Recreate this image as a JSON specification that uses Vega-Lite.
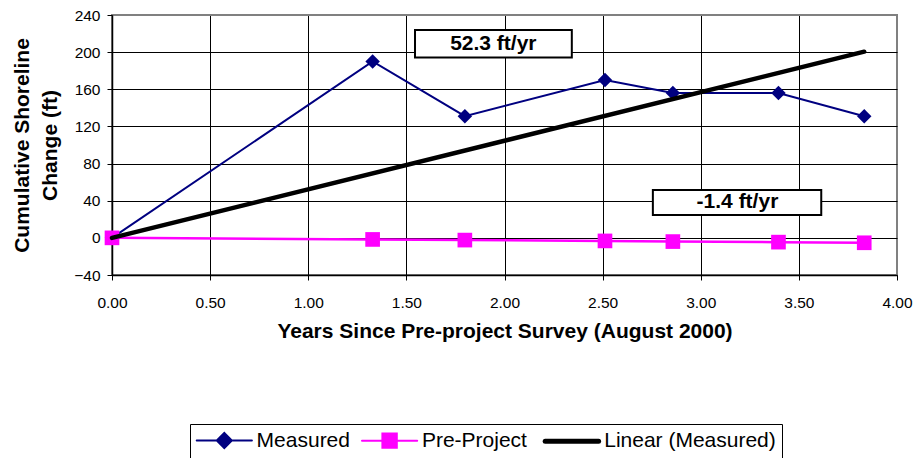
{
  "$schema": "https://vega.github.io/schema/vega-lite/v6.json",
  "width": 785,
  "height": 260,
  "autosize": {"type": "none"},
  "padding": {"left": 112, "top": 15, "right": 21, "bottom": 183},
  "background": "white",
  "config": {
    "font": "Liberation Sans",
    "view": {"stroke": "#808080", "strokeWidth": 2},
    "axis": {
      "labelFont": "Liberation Sans",
      "labelFontSize": 15.5,
      "labelColor": "black",
      "labelFlush": false,
      "labelOverlap": false,
      "titleFont": "Liberation Sans",
      "titleFontSize": 21,
      "titleFontWeight": "bold",
      "titleColor": "black",
      "tickColor": "black",
      "tickSize": 5,
      "tickWidth": 1,
      "domainColor": "black",
      "domainWidth": 1.5,
      "grid": true,
      "gridWidth": 1,
      "gridOpacity": 1
    }
  },
  "datasets": {
    "obs": [
      {"years": 0, "change": 0, "series": "Measured"},
      {"years": 1.328, "change": 190, "series": "Measured"},
      {"years": 1.798, "change": 131, "series": "Measured"},
      {"years": 2.512, "change": 170, "series": "Measured"},
      {"years": 2.858, "change": 156, "series": "Measured"},
      {"years": 3.396, "change": 156, "series": "Measured"},
      {"years": 3.833, "change": 131, "series": "Measured"},
      {"years": 0, "change": 0, "series": "Pre-Project"},
      {"years": 1.328, "change": -1.7, "series": "Pre-Project"},
      {"years": 1.798, "change": -2.4, "series": "Pre-Project"},
      {"years": 2.512, "change": -3.3, "series": "Pre-Project"},
      {"years": 2.858, "change": -4.0, "series": "Pre-Project"},
      {"years": 3.396, "change": -4.6, "series": "Pre-Project"},
      {"years": 3.833, "change": -5.3, "series": "Pre-Project"}
    ],
    "trend": [
      {"years": 0, "change": 0, "series": "Linear (Measured)"},
      {"years": 3.833, "change": 200.5, "series": "Linear (Measured)"}
    ],
    "notes": [
      {"label": "52.3 ft/yr", "xc": 1.943, "yc": 209, "xl": 1.544, "xr": 2.343, "yb": 194.1, "yt": 223.9},
      {"label": "-1.4 ft/yr", "xc": 3.187, "yc": 38.1, "xl": 2.756, "xr": 3.614, "yb": 24.7, "yt": 51.6}
    ]
  },
  "encoding": {
    "x": {
      "field": "years",
      "type": "quantitative",
      "scale": {"domain": [0, 4], "nice": false, "zero": false},
      "axis": {
        "title": "Years Since Pre-project Survey (August 2000)",
        "values": [0, 0.5, 1, 1.5, 2, 2.5, 3, 3.5, 4],
        "format": ".2f",
        "labelPadding": 15,
        "titlePadding": 10,
        "gridColor": {"condition": {"test": "datum.value === 4", "value": "#808080"}, "value": "black"}
      }
    },
    "y": {
      "field": "change",
      "type": "quantitative",
      "scale": {"domain": [-40, 240], "nice": false, "zero": false},
      "axis": {
        "title": ["Cumulative Shoreline", "Change (ft)"],
        "titleLineHeight": 28,
        "values": [-40, 0, 40, 80, 120, 160, 200, 240],
        "format": "d",
        "labelPadding": 7,
        "titlePadding": 13,
        "gridColor": {"condition": {"test": "datum.value === 240", "value": "#808080"}, "value": "black"}
      }
    }
  },
  "layer": [
    {
      "data": {"name": "obs"},
      "transform": [{"filter": "datum.series === 'Measured'"}],
      "mark": {"type": "line", "strokeWidth": 2},
      "encoding": {
        "color": {
          "field": "series",
          "type": "nominal",
          "scale": {"domain": ["Measured", "Pre-Project", "Linear (Measured)"], "range": ["#000080", "#FF00FF", "#000000"]},
          "legend": {
            "title": null,
            "orient": "none",
            "legendX": 78,
            "legendY": 409,
            "direction": "horizontal",
            "strokeColor": "black",
            "fillColor": "white",
            "padding": 6,
            "labelFont": "Liberation Sans",
            "labelFontSize": 21,
            "labelColor": "black",
            "labelLimit": 400,
            "symbolSize": 144,
            "symbolStrokeWidth": 2,
            "symbolOffset": 17.8,
            "labelOffset": 21.8,
            "columnPadding": 7.3,
            "encode": {
              "symbols": {
                "update": {
                  "shape": {"signal": "datum.value === 'Measured' ? 'M-4.6,0H4.6M0,-1.25L1.25,0L0,1.25L-1.25,0Z' : datum.value === 'Pre-Project' ? 'M-4.6,0H4.6M-1.2,-1.2H1.2V1.2H-1.2Z' : 'M-4.45,0H4.45'"},
                  "fill": {"signal": "datum.value === 'Measured' ? '#000080' : datum.value === 'Pre-Project' ? '#FF00FF' : 'transparent'"},
                  "stroke": {"signal": "datum.value === 'Measured' ? '#000080' : datum.value === 'Pre-Project' ? '#FF00FF' : '#000000'"},
                  "strokeWidth": {"signal": "datum.value === 'Linear (Measured)' ? 5 : 2"},
                  "strokeCap": {"value": "round"},
                  "opacity": {"value": 1},
                  "fillOpacity": {"value": 1}
                }
              }
            }
          }
        }
      }
    },
    {
      "data": {"name": "obs"},
      "transform": [{"filter": "datum.series === 'Measured'"}],
      "mark": {"type": "point", "shape": "diamond", "filled": true, "size": 210, "opacity": 1},
      "encoding": {"color": {"field": "series", "type": "nominal"}}
    },
    {
      "data": {"name": "obs"},
      "transform": [{"filter": "datum.series === 'Pre-Project'"}],
      "mark": {"type": "line", "strokeWidth": 2.5},
      "encoding": {"color": {"field": "series", "type": "nominal"}}
    },
    {
      "data": {"name": "obs"},
      "transform": [{"filter": "datum.series === 'Pre-Project'"}],
      "mark": {"type": "point", "shape": "square", "filled": true, "size": 215, "opacity": 1},
      "encoding": {"color": {"field": "series", "type": "nominal"}}
    },
    {
      "data": {"name": "trend"},
      "mark": {"type": "line", "strokeWidth": 4.5, "strokeCap": "round"},
      "encoding": {"color": {"field": "series", "type": "nominal"}}
    },
    {
      "data": {"name": "notes"},
      "mark": {"type": "rect", "fill": "white", "stroke": "black", "strokeWidth": 2},
      "encoding": {
        "x": {"field": "xl", "type": "quantitative"},
        "x2": {"field": "xr"},
        "y": {"field": "yb", "type": "quantitative"},
        "y2": {"field": "yt"}
      }
    },
    {
      "data": {"name": "notes"},
      "mark": {"type": "text", "font": "Liberation Sans", "fontSize": 21, "fontWeight": "bold", "color": "black", "align": "center", "baseline": "middle"},
      "encoding": {
        "x": {"field": "xc", "type": "quantitative"},
        "y": {"field": "yc", "type": "quantitative"},
        "text": {"field": "label"}
      }
    }
  ]
}
